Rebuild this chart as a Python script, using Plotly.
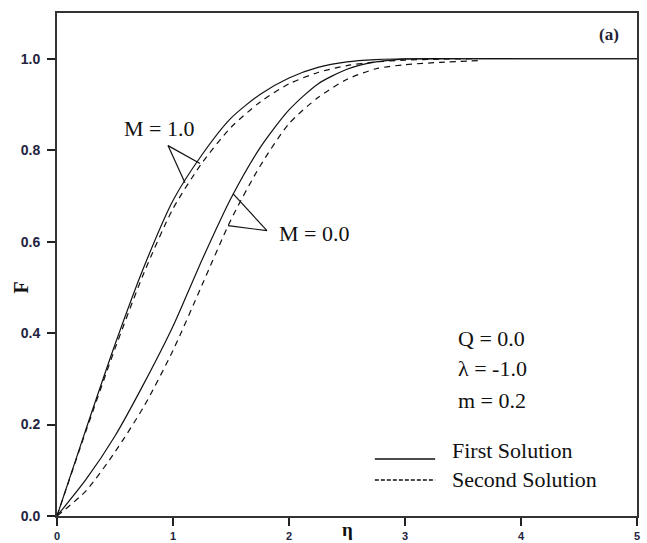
import plotly.graph_objects as go

# Velocity profiles F(eta) for two magnetic parameters, dual solutions
eta_m1_first = [0, 0.25, 0.5, 0.75, 1.0, 1.25, 1.5, 1.75, 2.0, 2.25, 2.5, 2.75, 3.0, 3.5, 4.0, 5.0]
F_m1_first = [0, 0.19, 0.375, 0.545, 0.69, 0.79, 0.87, 0.922, 0.958, 0.981, 0.993, 0.998, 1.0, 1.0, 1.0, 1.0]

eta_m1_second = [0, 0.25, 0.5, 0.75, 1.0, 1.25, 1.5, 1.75, 2.0, 2.25, 2.5, 2.75, 3.0, 3.3, 3.6]
F_m1_second = [0, 0.186, 0.366, 0.532, 0.672, 0.772, 0.85, 0.905, 0.945, 0.97, 0.985, 0.993, 0.997, 0.999, 1.0]

eta_m0_first = [0, 0.25, 0.5, 0.75, 1.0, 1.25, 1.5, 1.75, 2.0, 2.25, 2.5, 2.75, 3.0, 3.5, 4.0, 5.0]
F_m0_first = [0, 0.08, 0.175, 0.29, 0.415, 0.56, 0.695, 0.805, 0.888, 0.945, 0.977, 0.993, 0.999, 1.0, 1.0, 1.0]

eta_m0_second = [0, 0.25, 0.5, 0.75, 1.0, 1.25, 1.5, 1.75, 2.0, 2.25, 2.5, 2.75, 3.0, 3.3, 3.65]
F_m0_second = [0, 0.055, 0.14, 0.24, 0.362, 0.505, 0.648, 0.765, 0.858, 0.915, 0.955, 0.978, 0.987, 0.992, 0.996]

x_ticks = [0, 1, 2, 3, 4, 5]
x_tick_labels = ["0", "1", "2", "3", "4", "5"]
y_ticks = [0.0, 0.2, 0.4, 0.6, 0.8, 1.0]
y_tick_labels = ["0.0", "0.2", "0.4", "0.6", "0.8", "1.0"]

params_text = ["Q = 0.0", "\u03bb = -1.0", "m = 0.2"]
params_y = [0.389, 0.323, 0.253]

# Pointer geometry for the curve labels: vertex, then the two curve touch points
m1_pointer = [(0.957, 0.810), (1.233, 0.771), (1.103, 0.729)]
m0_pointer = [(1.81, 0.624), (1.517, 0.705), (1.474, 0.635)]

SERIF = "Liberation Serif, Times New Roman, serif"
INK = "#111111"

solid = dict(color=INK, width=1.2, shape="spline", smoothing=0.7)
dashed = dict(color=INK, width=1.2, dash="6px,5px", shape="spline", smoothing=0.7)

fig = go.Figure()
fig.add_trace(go.Scatter(x=eta_m1_first, y=F_m1_first, mode="lines", line=solid, showlegend=False))
fig.add_trace(go.Scatter(x=eta_m1_second, y=F_m1_second, mode="lines", line=dashed, showlegend=False))
fig.add_trace(go.Scatter(x=eta_m0_first, y=F_m0_first, mode="lines", line=solid, showlegend=False))
fig.add_trace(go.Scatter(x=eta_m0_second, y=F_m0_second, mode="lines", line=dashed, showlegend=False))

shapes = []
for pointer in (m1_pointer, m0_pointer):
    vx, vy = pointer[0]
    for px, py in pointer[1:]:
        shapes.append(dict(type="line", xref="x", yref="y", x0=vx, y0=vy, x1=px, y1=py,
                           line=dict(color=INK, width=1.2)))

# Hand-drawn key in the lower right
key_x0, key_x1 = 2.74, 3.26
shapes.append(dict(type="line", xref="x", yref="y", x0=key_x0, x1=key_x1, y0=0.1245, y1=0.1245,
                   line=dict(color=INK, width=1.4)))
shapes.append(dict(type="line", xref="x", yref="y", x0=key_x0, x1=key_x1, y0=0.0786, y1=0.0786,
                   line=dict(color=INK, width=1.4, dash="4px,2px")))

annotations = [
    dict(x=0.875, y=0.847, text="M = 1.0", xanchor="center"),
    dict(x=1.897, y=0.617, text="M = 0.0", xanchor="left"),
    dict(x=3.388, y=0.144, text="First Solution", xanchor="left"),
    dict(x=3.388, y=0.080, text="Second Solution", xanchor="left"),
]
for t, yv in zip(params_text, params_y):
    annotations.append(dict(x=3.44, y=yv, text=t, xanchor="left"))
for a in annotations:
    a.update(xref="x", yref="y", yanchor="middle", showarrow=False,
             font=dict(family=SERIF, size=22, color=INK))

annotations.append(dict(x=4.76, y=1.054, xref="x", yref="y", text="<b>(a)</b>", showarrow=False,
                        xanchor="center", yanchor="middle",
                        font=dict(family=SERIF, size=17, color="#222233")))
annotations.append(dict(x=-0.062, y=0.5, xref="paper", yref="y", text="<b>F</b>", showarrow=False,
                        textangle=-90, xanchor="center", yanchor="middle",
                        font=dict(family=SERIF, size=20, color=INK)))
annotations.append(dict(x=2.5, y=-0.052, xref="x", yref="paper", text="<b>\u03b7</b>", showarrow=False,
                        xanchor="center", yanchor="bottom",
                        font=dict(family=SERIF, size=19, color=INK)))

fig.update_layout(
    width=647, height=543,
    margin=dict(l=57, r=10, t=13, b=27, autoexpand=False),
    paper_bgcolor="white", plot_bgcolor="white",
    shapes=shapes, annotations=annotations,
    showlegend=False,
)
fig.update_xaxes(range=[0, 5], tickvals=x_ticks, ticktext=["<b>%s</b>" % s for s in x_tick_labels],
                 ticks="outside", ticklen=8, tickwidth=2, tickcolor="#222222",
                 showline=True, linewidth=2, linecolor="#333333", mirror=True,
                 showgrid=False, zeroline=False, ticklabelstandoff=1, automargin=False,
                 tickfont=dict(family="Liberation Sans, Arial, sans-serif", size=11, color="#23233f"))
fig.update_yaxes(range=[0, 1.1], tickvals=y_ticks, ticktext=["<b>%s</b>" % s for s in y_tick_labels],
                 ticks="outside", ticklen=8, tickwidth=2, tickcolor="#222222",
                 showline=True, linewidth=2, linecolor="#333333", mirror=True,
                 showgrid=False, zeroline=False, ticklabelstandoff=4, automargin=False,
                 tickfont=dict(family="Liberation Sans, Arial, sans-serif", size=14, color="#23233f"))

fig.write_html("out.html")
